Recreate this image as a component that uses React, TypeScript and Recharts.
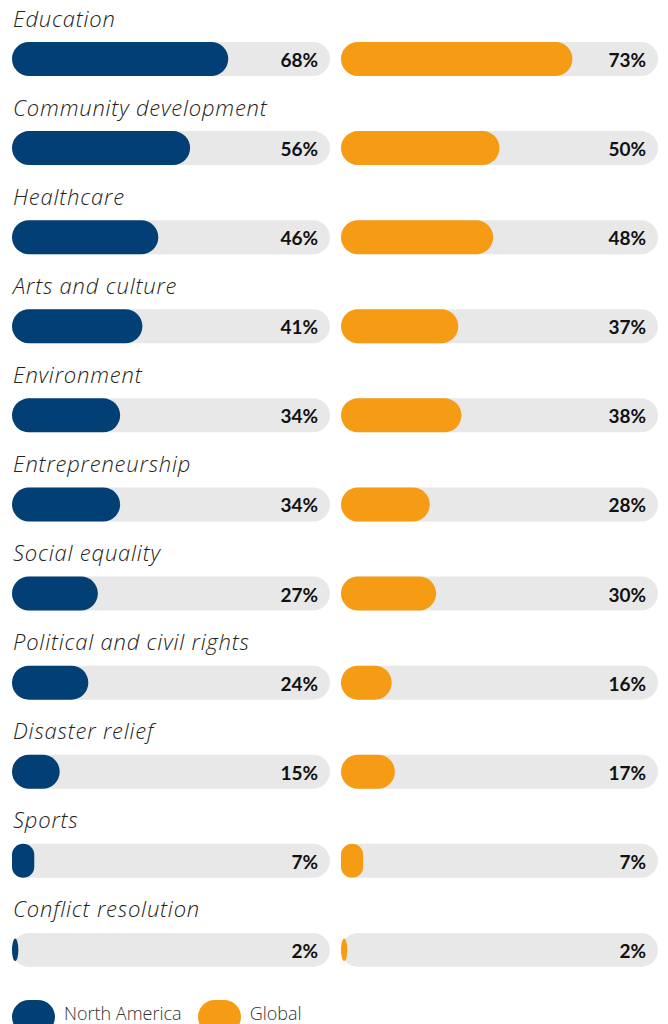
import React from 'react';
import { BarChart, Bar, XAxis, YAxis, LabelList } from 'recharts';

const categories = [
  'Education',
  'Community development',
  'Healthcare',
  'Arts and culture',
  'Environment',
  'Entrepreneurship',
  'Social equality',
  'Political and civil rights',
  'Disaster relief',
  'Sports',
  'Conflict resolution',
];
const northAmerica = [68, 56, 46, 41, 34, 34, 27, 24, 15, 7, 2];
const globalValues = [73, 50, 48, 37, 38, 28, 30, 16, 17, 7, 2];
const seriesNames = ['North America', 'Global'];
const seriesColors = ['#023f75', '#f59c14'];

const data = categories.map((name, i) => ({ name, na: northAmerica[i], gl: globalValues[i] }));

const FONT = 'Lato, "Noto Sans", sans-serif';
const LABEL_FONT = '"Open Sans", "Noto Sans", sans-serif';
const TRACK = '#e8e8e8';

const PillShape = (props: any) => {
  const { x, y, width, height, fill, value, background } = props;
  const w = Math.max(0, width);
  const r = Math.max(0, Math.min(height / 2, w / 2));
  const v = Array.isArray(value) ? value[1] - value[0] : value;
  const bg = background || { x, y, width, height };
  const thin = w < height / 4;
  return (
    <g>
      {thin ? (
        <ellipse cx={x + w / 2} cy={y + height / 2} rx={w / 2} ry={height / 3} fill={fill} />
      ) : (
        <rect x={x} y={y} width={w} height={height} rx={r} ry={r} fill={fill} />
      )}
      <text
        x={bg.x + bg.width - 12}
        y={y + height / 2 + 8}
        textAnchor="end"
        fontFamily={FONT}
        fontWeight={700}
        fontSize={19}
        fill="#111"
      >
        {v}%
      </text>
    </g>
  );
};

const CategoryLabel = (props: any) => {
  const { x, y, value } = props;
  return (
    <text
      x={x + 1}
      y={y - 15.5}
      fontFamily={LABEL_FONT}
      fontStyle="italic"
      fontWeight={300}
      fontSize={22}
      letterSpacing={0.8}
      fill="#222"
    >
      {value}
    </text>
  );
};

export default function App() {
  return (
    <div style={{ position: 'absolute', left: 0, top: 0, width: 668, height: 1024, overflow: 'hidden', background: '#fff' }}>
      <div style={{ position: 'absolute', left: 0, top: 0 }}>
        <BarChart
          width={336}
          height={994}
          data={data}
          layout="vertical"
          margin={{ top: 14, right: 6, bottom: 0, left: 12 }}
          barCategoryGap={0}
        >
          <XAxis type="number" domain={[0, 100]} hide />
          <YAxis type="category" dataKey="name" hide />
          <Bar
            dataKey="na"
            fill={seriesColors[0]}
            barSize={34}
            isAnimationActive={false}
            background={{ fill: TRACK, radius: 17 } as any}
            shape={<PillShape />}
          >
            <LabelList dataKey="name" content={<CategoryLabel />} />
          </Bar>
        </BarChart>
      </div>
      <div style={{ position: 'absolute', left: 335, top: 0 }}>
        <BarChart
          width={333}
          height={994}
          data={data}
          layout="vertical"
          margin={{ top: 14, right: 10, bottom: 0, left: 6 }}
          barCategoryGap={0}
        >
          <XAxis type="number" domain={[0, 100]} hide />
          <YAxis type="category" dataKey="name" hide />
          <Bar
            dataKey="gl"
            fill={seriesColors[1]}
            barSize={34}
            isAnimationActive={false}
            background={{ fill: TRACK, radius: 17 } as any}
            shape={<PillShape />}
          />
        </BarChart>
      </div>
      <div style={{ position: 'absolute', left: 12, top: 1000, display: 'flex', alignItems: 'flex-start', fontFamily: LABEL_FONT }}>
        {seriesNames.map((n, i) => (
          <div key={n} style={{ display: 'flex', alignItems: 'flex-start', marginRight: i === 0 ? 16 : 0 }}>
            <div style={{ width: 43, height: 34, borderRadius: 17, background: seriesColors[i] }} />
            <span style={{ marginLeft: 9, marginTop: 1, fontSize: 18, fontWeight: 300, color: '#333', lineHeight: '24px' }}>{n}</span>
          </div>
        ))}
      </div>
    </div>
  );
}
